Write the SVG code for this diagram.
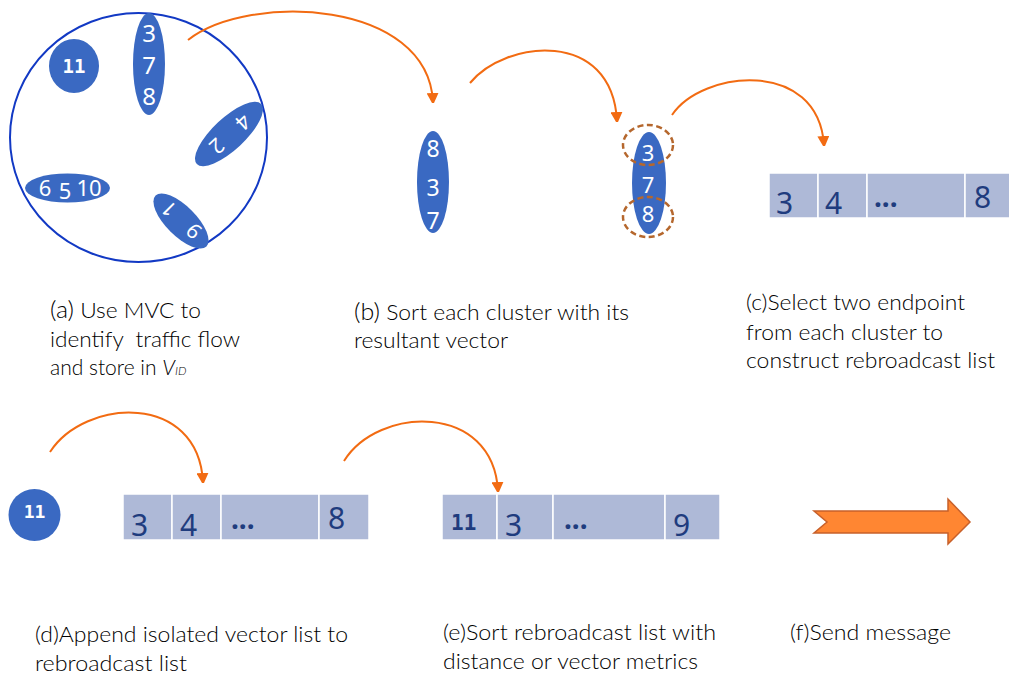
<svg xmlns="http://www.w3.org/2000/svg" width="1009" height="677" viewBox="0 0 1009 677">
<defs>
<marker id="ah" viewBox="0 0 10 12" refX="9" refY="6" markerWidth="10" markerHeight="12" markerUnits="userSpaceOnUse" orient="auto">
<path d="M0,0 L12,6 L0,12 Z" fill="#F26B12"/>
</marker>
<style>
.blob{fill:#3A69C2}
.wd{fill:#fff;font-family:"Noto Sans","DejaVu Sans",sans-serif;text-anchor:middle}
.w11{fill:#fff;font-family:"DejaVu Sans Mono","Liberation Mono",monospace;font-weight:bold;text-anchor:middle}
.cell{fill:#AEB9D7;stroke:#fff;stroke-width:1.5}
.bd{fill:#1F3C7E;font-family:"Noto Sans","DejaVu Sans",sans-serif}
.dots{fill:#1F3C7E;font-family:"Noto Sans","DejaVu Sans",sans-serif;font-weight:bold;font-size:28px}
.b11{fill:#1F3C7E;font-family:"DejaVu Sans Mono","Liberation Mono",monospace;font-weight:bold}
.lbl{fill:#000;font-family:Lato,"Liberation Sans",sans-serif;font-size:21px;font-weight:300}
.conn{fill:none;stroke:#F26B12;stroke-width:2;marker-end:url(#ah)}
.dash{fill:none;stroke:#B5672D;stroke-width:2.5;stroke-dasharray:6 3.5}
</style>
</defs>
<rect width="1009" height="677" fill="#fff"/>

<g id="mvc">
<ellipse cx="138.5" cy="137.5" rx="128.5" ry="124.5" fill="none" stroke="#1239C4" stroke-width="2"/>
<ellipse class="blob" cx="74" cy="66" rx="25" ry="27"/>
<text class="w11" x="74" y="73" font-size="19">11</text>
<ellipse class="blob" cx="149" cy="64" rx="16" ry="51"/>
<text class="wd" x="149" y="42" font-size="24">3</text>
<text class="wd" x="149" y="74" font-size="24">7</text>
<text class="wd" x="149" y="105" font-size="24">8</text>
<ellipse class="blob" cx="229" cy="134" rx="44" ry="16" transform="rotate(-43 229 134)"/>
<text class="wd" font-size="21" transform="translate(243 122) rotate(137)" dy="7.5">4</text>
<text class="wd" font-size="21" transform="translate(217 146) rotate(137)" dy="7.5">2</text>
<ellipse class="blob" cx="67.5" cy="188" rx="42.5" ry="14.5"/>
<text class="wd" x="45" y="196" font-size="22">6</text>
<text class="wd" x="65" y="199" font-size="22">5</text>
<text class="wd" x="89" y="196" font-size="22">10</text>
<ellipse class="blob" cx="181" cy="221" rx="36" ry="15" transform="rotate(45 181 221)"/>
<text class="wd" font-size="21" transform="translate(169 209) rotate(-135)" dy="7.5">1</text>
<text class="wd" font-size="21" transform="translate(194 231) rotate(-135)" dy="7.5">9</text>
</g>

<g id="sorted-cluster">
<ellipse class="blob" cx="433" cy="182" rx="16" ry="51"/>
<text class="wd" x="433" y="157" font-size="23">8</text>
<text class="wd" x="433" y="196" font-size="23">3</text>
<text class="wd" x="433" y="229" font-size="23">7</text>
</g>

<g id="endpoint-cluster">
<ellipse class="blob" cx="649" cy="183" rx="17" ry="51"/>
<text class="wd" x="648" y="161" font-size="22">3</text>
<text class="wd" x="648" y="193" font-size="22">7</text>
<text class="wd" x="648" y="222" font-size="22">8</text>
<ellipse class="dash" cx="648" cy="145" rx="25" ry="20"/>
<ellipse class="dash" cx="648" cy="217" rx="25" ry="20"/>
</g>

<g id="list-c">
<rect class="cell" x="769" y="173" width="49" height="45"/>
<rect class="cell" x="818" y="173" width="49" height="45"/>
<rect class="cell" x="867" y="173" width="98" height="45"/>
<rect class="cell" x="965" y="173" width="50" height="45"/>
<text class="bd" x="776" y="214" font-size="30">3</text>
<text class="bd" x="825" y="214" font-size="30">4</text>
<text class="dots" x="874" y="207">...</text>
<text class="bd" x="974" y="208" font-size="30">8</text>
</g>

<g id="isolated-11">
<circle class="blob" cx="34.5" cy="515" r="26"/>
<text class="w11" x="34.5" y="518" font-size="18">11</text>
</g>

<g id="list-d">
<rect class="cell" x="123" y="494" width="49" height="46"/>
<rect class="cell" x="172" y="494" width="49" height="46"/>
<rect class="cell" x="221" y="494" width="98" height="46"/>
<rect class="cell" x="319" y="494" width="50" height="46"/>
<text class="bd" x="131" y="536" font-size="30">3</text>
<text class="bd" x="180" y="536" font-size="30">4</text>
<text class="dots" x="231" y="529">...</text>
<text class="bd" x="328" y="529" font-size="30">8</text>
</g>

<g id="list-e">
<rect class="cell" x="442" y="494" width="55" height="46"/>
<rect class="cell" x="497" y="494" width="56" height="46"/>
<rect class="cell" x="553" y="494" width="112" height="46"/>
<rect class="cell" x="665" y="494" width="55" height="46"/>
<text class="b11" x="451" y="530" font-size="21">11</text>
<text class="bd" x="505" y="536" font-size="30">3</text>
<text class="dots" x="564" y="529">...</text>
<text class="bd" x="673" y="536" font-size="30">9</text>
</g>

<g id="send-arrow">
<polygon points="814,511 948,511 948,499 970,522 948,544 948,533 814,533 827,522" fill="#FF8632" stroke="#C8602A" stroke-width="1.5"/>
</g>

<g id="connectors">
<path class="conn" d="M188,40 C250,-8 428,0 433,102"/>
<path class="conn" d="M470,83 C505,40 612,28 617,121"/>
<path class="conn" d="M672,115 C702,70 818,58 824,145"/>
<path class="conn" d="M50,452 C85,398 198,392 203,482"/>
<path class="conn" d="M344,461 C378,406 493,402 498,491"/>
</g>

<g id="labels">
<text class="lbl" x="50" y="318" textLength="151" lengthAdjust="spacingAndGlyphs"><tspan font-size="23">(a)</tspan> Use MVC to</text>
<text class="lbl" x="50" y="347" textLength="190" lengthAdjust="spacingAndGlyphs" xml:space="preserve">identify  traffic flow</text>
<text class="lbl" x="50" y="375">and store in <tspan font-style="italic">V</tspan><tspan font-style="italic" font-size="12">ID</tspan></text>
<text class="lbl" x="354" y="320" textLength="275" lengthAdjust="spacingAndGlyphs"><tspan font-size="23">(b)</tspan> Sort each cluster with its</text>
<text class="lbl" x="354" y="348" textLength="154" lengthAdjust="spacingAndGlyphs">resultant vector</text>
<text class="lbl" x="746" y="310" textLength="219" lengthAdjust="spacingAndGlyphs">(c)Select two endpoint</text>
<text class="lbl" x="746" y="340" textLength="197" lengthAdjust="spacingAndGlyphs">from each cluster to</text>
<text class="lbl" x="746" y="368" textLength="249" lengthAdjust="spacingAndGlyphs">construct rebroadcast list</text>
<text class="lbl" x="35" y="642" textLength="313" lengthAdjust="spacingAndGlyphs">(d)Append isolated vector list to</text>
<text class="lbl" x="35" y="671" textLength="152" lengthAdjust="spacingAndGlyphs">rebroadcast list</text>
<text class="lbl" x="443" y="640" textLength="273" lengthAdjust="spacingAndGlyphs">(e)Sort rebroadcast list with</text>
<text class="lbl" x="443" y="669" textLength="255" lengthAdjust="spacingAndGlyphs">distance or vector metrics</text>
<text class="lbl" x="790" y="640" textLength="161" lengthAdjust="spacingAndGlyphs">(f)Send message</text>
</g>
</svg>
